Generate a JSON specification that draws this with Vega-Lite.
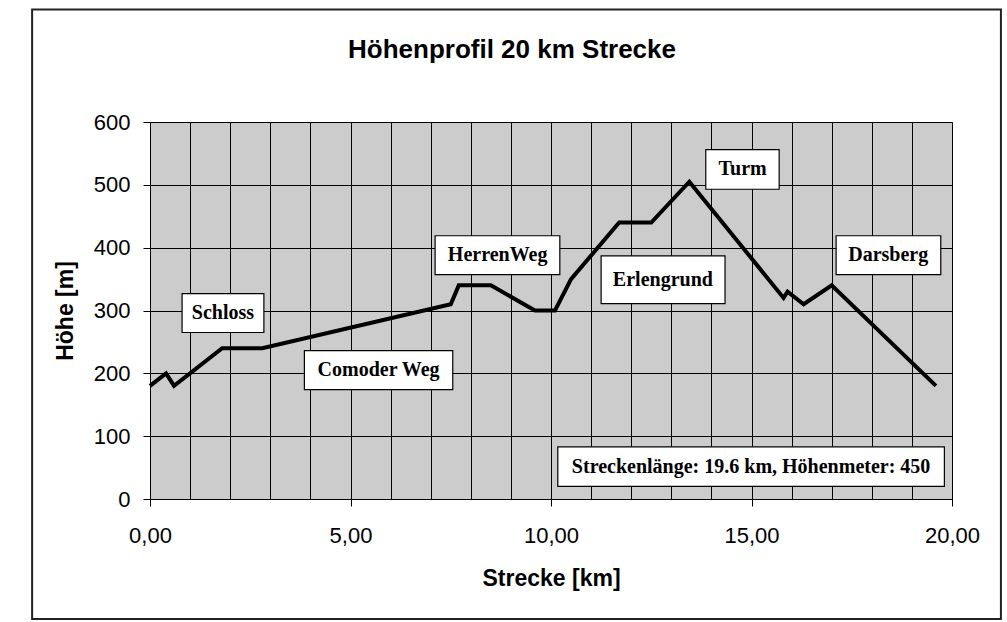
{
  "$schema": "https://vega.github.io/schema/vega-lite/v6.json",
  "width": 802,
  "height": 377,
  "autosize": {"type": "none"},
  "padding": {"left": 150, "top": 122, "right": 55, "bottom": 123},
  "background": "white",
  "title": {
    "text": "Höhenprofil 20 km Strecke",
    "font": "Liberation Sans",
    "fontSize": 26,
    "fontWeight": "bold",
    "color": "black",
    "anchor": "middle",
    "frame": "group",
    "baseline": "alphabetic",
    "dx": -39,
    "offset": -75
  },
  "datasets": {
    "profile": [
      {"km": 0.0, "hoehe": 180},
      {"km": 0.4, "hoehe": 200},
      {"km": 0.6, "hoehe": 180},
      {"km": 1.8, "hoehe": 240},
      {"km": 2.8, "hoehe": 240},
      {"km": 7.5, "hoehe": 310},
      {"km": 7.7, "hoehe": 340},
      {"km": 8.5, "hoehe": 340},
      {"km": 9.6, "hoehe": 300},
      {"km": 10.1, "hoehe": 300},
      {"km": 10.5, "hoehe": 350},
      {"km": 11.7, "hoehe": 440},
      {"km": 12.5, "hoehe": 440},
      {"km": 13.45, "hoehe": 505},
      {"km": 15.8, "hoehe": 320},
      {"km": 15.9, "hoehe": 330},
      {"km": 16.3, "hoehe": 310},
      {"km": 17.0, "hoehe": 340},
      {"km": 19.6, "hoehe": 180}
    ],
    "labels": [
      {"label": "Schloss", "x1": 0.80, "x2": 2.84, "y1": 265, "y2": 327, "cx": 1.82, "cy": 296},
      {"label": "Comoder Weg", "x1": 3.85, "x2": 7.55, "y1": 174, "y2": 236, "cx": 5.70, "cy": 205},
      {"label": "HerrenWeg", "x1": 7.11, "x2": 10.22, "y1": 357, "y2": 419, "cx": 8.67, "cy": 388},
      {"label": "Erlengrund", "x1": 11.25, "x2": 14.34, "y1": 311, "y2": 387, "cx": 12.79, "cy": 349},
      {"label": "Turm", "x1": 13.86, "x2": 15.69, "y1": 493, "y2": 556, "cx": 14.78, "cy": 525},
      {"label": "Darsberg", "x1": 17.11, "x2": 19.72, "y1": 357, "y2": 419, "cx": 18.41, "cy": 388},
      {"label": "Streckenlänge: 19.6 km, Höhenmeter: 450", "x1": 10.17, "x2": 19.81, "y1": 20, "y2": 83, "cx": 14.99, "cy": 51.5}
    ],
    "frame": [
      {"x1": -2.94, "x2": 21.22, "y1": -191, "y2": 779}
    ]
  },
  "config": {
    "view": {"fill": "#cccccc", "stroke": "#555555", "strokeWidth": 1},
    "axis": {
      "domainColor": "black",
      "tickColor": "black",
      "gridColor": "black",
      "gridOpacity": 1,
      "gridWidth": 1,
      "labelColor": "black",
      "titleColor": "black",
      "labelFont": "Liberation Sans",
      "titleFont": "Liberation Sans",
      "labelFontSize": 22,
      "titleFontSize": 23,
      "titleFontWeight": "bold",
      "tickSize": 7
    }
  },
  "layer": [
    {
      "data": {"name": "frame"},
      "mark": {"type": "rect", "fill": null, "stroke": "#222222", "strokeWidth": 2, "clip": false},
      "encoding": {
        "x": {"field": "x1", "type": "quantitative"},
        "x2": {"field": "x2"},
        "y": {"field": "y1", "type": "quantitative"},
        "y2": {"field": "y2"}
      }
    },
    {
      "data": {"name": "profile"},
      "mark": {"type": "line", "color": "black", "strokeWidth": 4, "strokeJoin": "miter"},
      "encoding": {
        "x": {
          "field": "km",
          "type": "quantitative",
          "scale": {"domain": [0, 20], "nice": false},
          "axis": {
            "title": "Strecke [km]",
            "values": [0,1,2,3,4,5,6,7,8,9,10,11,12,13,14,15,16,17,18,19,20],
            "labelExpr": "datum.value % 5 === 0 ? replace(format(datum.value, '.2f'), '.', ',') : ''",
            "labelOverlap": false,
            "labelFlush": false,
            "labelPadding": 19,
            "titlePadding": 21,
            "tickOpacity": {"condition": {"test": "datum.value % 5 === 0", "value": 1}, "value": 0}
          }
        },
        "y": {
          "field": "hoehe",
          "type": "quantitative",
          "scale": {"domain": [0, 600], "nice": false},
          "axis": {
            "title": "Höhe [m]",
            "values": [0, 100, 200, 300, 400, 500, 600],
            "labelPadding": 13,
            "titlePadding": 16
          }
        }
      }
    },
    {
      "data": {"name": "labels"},
      "mark": {"type": "rect", "fill": "white", "stroke": "black", "strokeWidth": 1.2},
      "encoding": {
        "x": {"field": "x1", "type": "quantitative"},
        "x2": {"field": "x2"},
        "y": {"field": "y1", "type": "quantitative"},
        "y2": {"field": "y2"}
      }
    },
    {
      "data": {"name": "labels"},
      "mark": {"type": "text", "font": "Liberation Serif", "fontSize": 20, "fontWeight": "bold", "color": "black", "align": "center", "baseline": "middle"},
      "encoding": {
        "x": {"field": "cx", "type": "quantitative"},
        "y": {"field": "cy", "type": "quantitative"},
        "text": {"field": "label"}
      }
    }
  ]
}
